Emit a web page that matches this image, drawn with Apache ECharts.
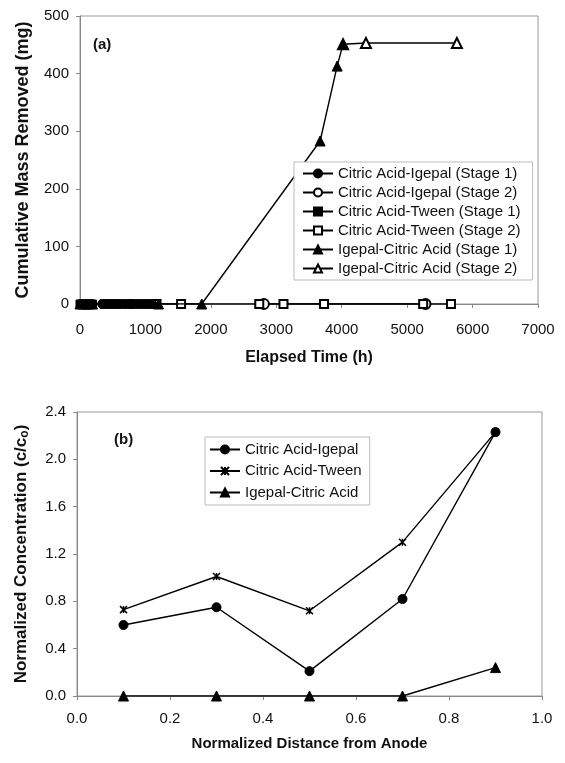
<!DOCTYPE html>
<html>
<head>
<meta charset="UTF-8">
<title>Mass removed and normalized concentration</title>
<script src="https://cdn.jsdelivr.net/npm/echarts@6/dist/echarts.min.js"></script>
<style>
  html, body { margin: 0; padding: 0; background: #fff; }
  #chart { width: 565px; height: 763px; }
</style>
</head>
<body>
<div id="chart"></div>
<script>
// (a) cumulative mass removed vs elapsed time (h)
const ciStage1Time = [340, 390, 430, 480, 530, 580, 630, 690, 750, 790, 810, 870, 930, 990, 1050, 1100];
const ciStage1Mass = [0, 0, 0, 0, 0, 0, 0, 0, 0, 0, 0, 0, 0, 0, 0, 0];
const ciStage2Time = [2810, 5280];
const ciStage2Mass = [0, 0];
const ctStage1Time = [0, 24, 48, 72, 100, 130, 160, 190, 360, 450, 550, 650, 760, 860, 960, 1060];
const ctStage1Mass = [0, 0, 0, 0, 0, 0, 0, 0, 0, 0, 0, 0, 0, 0, 0, 0];
const ctStage2Time = [1170, 1545, 2740, 3110, 3730, 5245, 5670];
const ctStage2Mass = [0, 0, 0, 0, 0, 0, 0];
const icStage1Time = [0, 48, 96, 144, 192, 1200, 1860, 3670, 3930, 4020];
const icStage1Mass = [0, 0, 0, 0, 0, 0, 0, 283, 413, 451];
const icStage2Time = [4020, 4370, 5760];
const icStage2Mass = [451, 453, 453];

// (b) normalized concentration vs normalized distance from anode
const distance = [0.1, 0.3, 0.5, 0.7, 0.9];
const ciConc = [0.60, 0.75, 0.21, 0.82, 2.23];
const ctConc = [0.73, 1.01, 0.72, 1.30, 2.23];
const icConc = [0, 0, 0, 0, 0.24];

const FONT = 'Liberation Sans, Arial, sans-serif';
const pairs = (xs, ys) => xs.map((x, i) => [x, ys[i]]);

function lineSeries(name, xs, ys, symbol, size, xi, z) {
  return {
    name, type: 'line', data: pairs(xs, ys),
    xAxisIndex: xi, yAxisIndex: xi,
    symbol, symbolSize: size, z,
    showAllSymbol: true,
    itemStyle: { color: '#000', borderColor: '#000', borderWidth: 1 },
    lineStyle: { color: '#000', width: 1.4 },
    emphasis: { disabled: true },
    animation: false
  };
}

const starPath = 'path://M0,0L10,10M10,0L0,10M5,0L5,10';

const axisCommon = {
  axisLine: { lineStyle: { color: '#888', width: 1 } },
  axisTick: { show: true, inside: false, length: 4, lineStyle: { color: '#888' } },
  splitLine: { show: false },
  axisLabel: { color: '#111', fontSize: 15, fontFamily: FONT },
  nameLocation: 'middle',
  nameTextStyle: { color: '#111', fontWeight: 'bold', fontFamily: FONT }
};

const legendCommon = {
  orient: 'vertical',
  backgroundColor: '#fff',
  borderColor: '#bbb',
  borderWidth: 1,
  borderRadius: 0,
  itemWidth: 30,
  itemHeight: 10,
  textStyle: { color: '#111', fontSize: 15, fontFamily: FONT },
  selectedMode: false
};

const chart = echarts.init(document.getElementById('chart'));
chart.setOption({
  backgroundColor: '#fff',
  animation: false,
  title: [
    { text: '(a)', left: 88, top: 32, textStyle: { fontSize: 15, fontWeight: 'bold', color: '#111', fontFamily: FONT } },
    { text: '(b)', left: 109, top: 427, textStyle: { fontSize: 15, fontWeight: 'bold', color: '#111', fontFamily: FONT } }
  ],
  grid: [
    { left: 80, right: 27, top: 16, height: 288, show: true, borderColor: '#999', borderWidth: 1, backgroundColor: 'transparent' },
    { left: 77, right: 23, top: 412, height: 284, show: true, borderColor: '#999', borderWidth: 1, backgroundColor: 'transparent' }
  ],
  xAxis: [
    Object.assign({}, axisCommon, {
      gridIndex: 0, type: 'value', min: 0, max: 7000, interval: 1000,
      name: 'Elapsed Time (h)', nameGap: 46,
      nameTextStyle: Object.assign({}, axisCommon.nameTextStyle, { fontSize: 16 }),
      axisLabel: Object.assign({}, axisCommon.axisLabel, { margin: 18, formatter: v => String(v) })
    }),
    Object.assign({}, axisCommon, {
      gridIndex: 1, type: 'value', min: 0, max: 1, interval: 0.2,
      name: 'Normalized Distance from Anode', nameGap: 40,
      nameTextStyle: Object.assign({}, axisCommon.nameTextStyle, { fontSize: 15 }),
      axisLabel: Object.assign({}, axisCommon.axisLabel, { margin: 15, formatter: v => v.toFixed(1) })
    })
  ],
  yAxis: [
    Object.assign({}, axisCommon, {
      gridIndex: 0, type: 'value', min: 0, max: 500, interval: 100,
      name: 'Cumulative Mass Removed (mg)', nameGap: 48,
      nameTextStyle: Object.assign({}, axisCommon.nameTextStyle, { fontSize: 18 }),
      axisLabel: Object.assign({}, axisCommon.axisLabel, { margin: 11 })
    }),
    Object.assign({}, axisCommon, {
      gridIndex: 1, type: 'value', min: 0, max: 2.4, interval: 0.4,
      name: 'Normalized Concentration (c/c{sub|o})', nameGap: 46,
      nameTextStyle: Object.assign({}, axisCommon.nameTextStyle, {
        fontSize: 17,
        rich: { sub: { fontSize: 12, fontWeight: 'bold', verticalAlign: 'bottom', padding: [7, 0, 0, 0], fontFamily: FONT, color: '#111' } }
      }),
      axisLabel: Object.assign({}, axisCommon.axisLabel, { margin: 11, formatter: v => v.toFixed(1) })
    })
  ],
  legend: [
    Object.assign({}, legendCommon, {
      left: 294, top: 162, padding: [4, 12, 4, 8],
      itemGap: 4,
      data: ['Citric Acid-Igepal (Stage 1)', 'Citric Acid-Igepal (Stage 2)',
             'Citric Acid-Tween (Stage 1)', 'Citric Acid-Tween (Stage 2)',
             'Igepal-Citric Acid (Stage 1)', 'Igepal-Citric Acid (Stage 2)']
    }),
    Object.assign({}, legendCommon, {
      left: 205, top: 437, padding: [5, 8, 5, 4],
      itemGap: 6.5,
      data: ['Citric Acid-Igepal', 'Citric Acid-Tween', 'Igepal-Citric Acid']
    })
  ],
  series: [
    lineSeries('Citric Acid-Igepal (Stage 2)', ciStage2Time, ciStage2Mass, 'emptyCircle', 10, 0, 2),
    lineSeries('Citric Acid-Tween (Stage 2)', ctStage2Time, ctStage2Mass, 'emptyRect', 8, 0, 2),
    lineSeries('Igepal-Citric Acid (Stage 2)', icStage2Time, icStage2Mass, 'emptyTriangle', 10, 0, 2),
    lineSeries('Citric Acid-Igepal (Stage 1)', ciStage1Time, ciStage1Mass, 'circle', 9, 0, 3),
    lineSeries('Citric Acid-Tween (Stage 1)', ctStage1Time, ctStage1Mass, 'rect', 8, 0, 3),
    lineSeries('Igepal-Citric Acid (Stage 1)', icStage1Time, icStage1Mass, 'triangle', 10, 0, 3),

    lineSeries('Citric Acid-Igepal', distance, ciConc, 'circle', 9, 1, 3),
    Object.assign(lineSeries('Citric Acid-Tween', distance, ctConc, starPath, 7, 1, 3), {
      itemStyle: { color: 'none', borderColor: '#000', borderWidth: 1.5 }
    }),
    lineSeries('Igepal-Citric Acid', distance, icConc, 'triangle', 10, 1, 3)
  ]
});
</script>
</body>
</html>
